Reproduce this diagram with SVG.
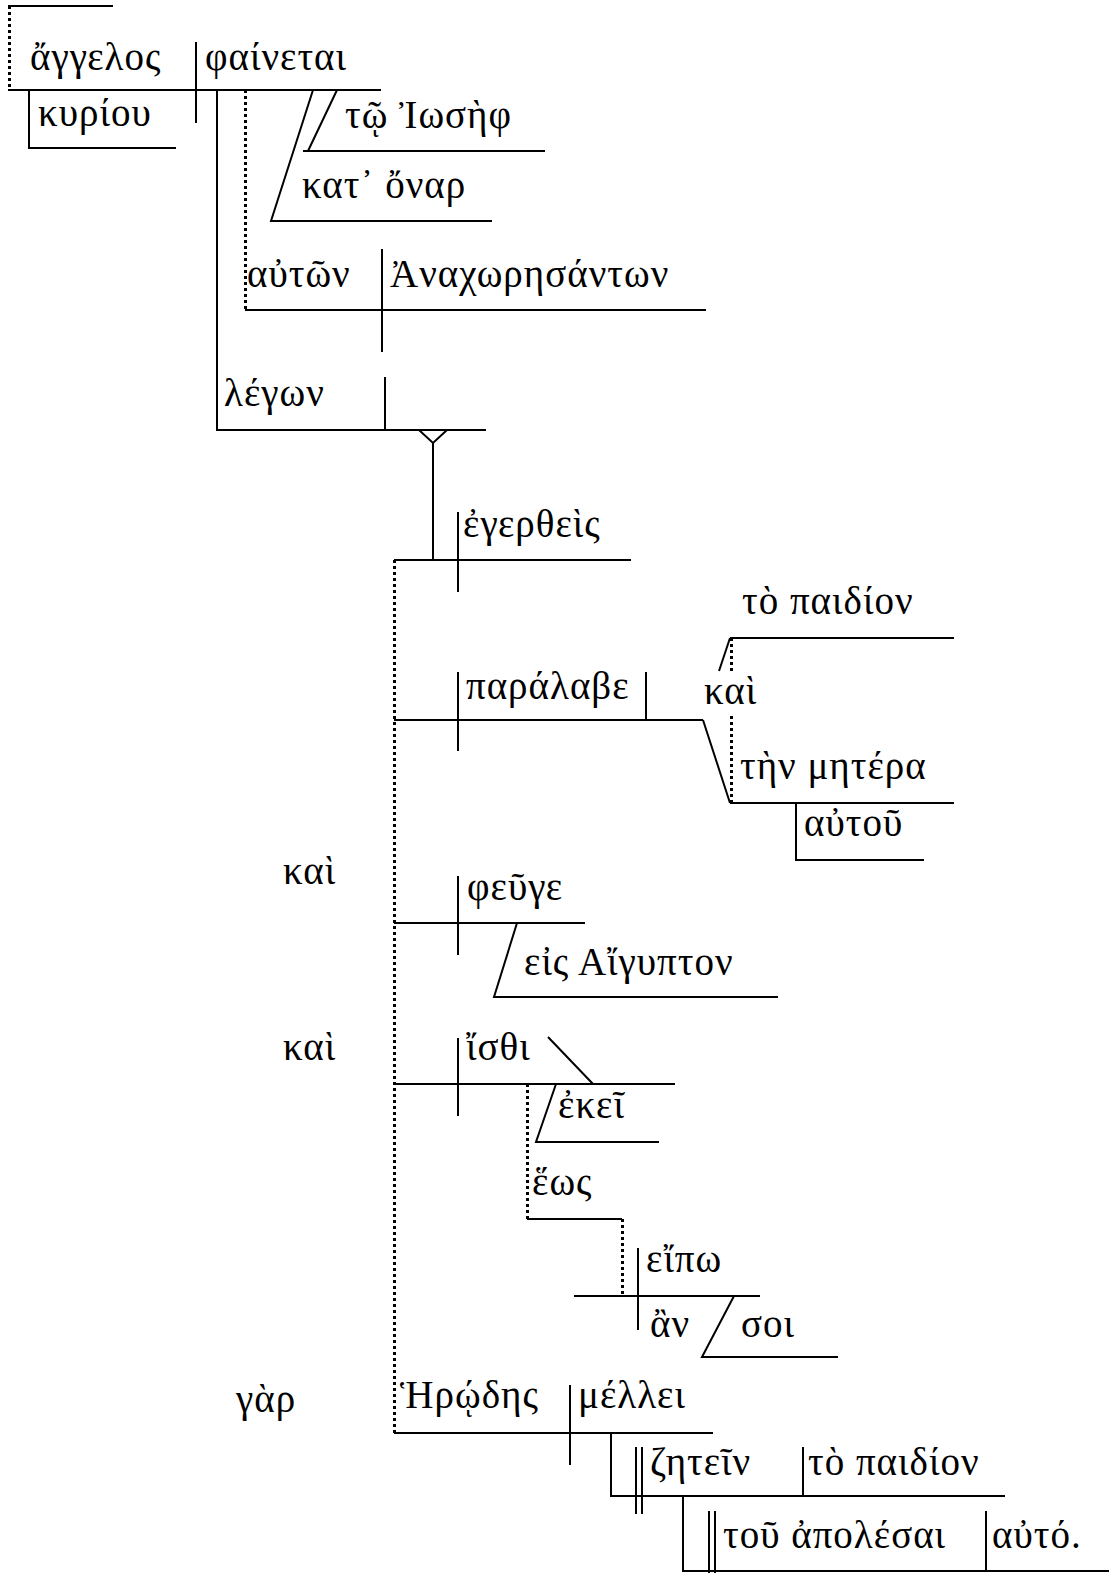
<svg xmlns="http://www.w3.org/2000/svg" width="1109" height="1573" viewBox="0 0 1109 1573">
<style>
.l{stroke:#000;stroke-width:2;fill:none}
.d{stroke:#000;stroke-width:3;fill:none;stroke-dasharray:3 3}
text{font-family:"Liberation Serif","DejaVu Serif",serif;font-size:39px;letter-spacing:1px;fill:#000}
</style>
<rect width="1109" height="1573" fill="#fff"/>
<g id="connectors">
<path class="l" d="M8,6H113"/>
<path class="d" d="M9.5,6V90"/>
<path class="l" d="M8,90H381"/>
<path class="l" d="M196,42V123"/>
<path class="l" d="M29,90V148H176"/>
<path class="l" d="M217,90V430H486"/>
<path class="d" d="M245.5,90V310"/>
<path class="l" d="M245,310H706"/>
<path class="l" d="M313,90L271,221H492"/>
<path class="l" d="M337,90L308,151M303,151H545"/>
<path class="l" d="M382,249V352"/>
<path class="l" d="M385,377V430"/>
<path class="l" d="M419,430L433,443L447,430M433,443V560"/>
<path class="l" d="M394,560H631M458,512V592"/>
<path class="d" d="M394.5,560V1433"/>
<path class="l" d="M394,720H703M458,672V751M646,672V720"/>
<path class="l" d="M703,720L730,803M719,671L730,638"/>
<path class="d" d="M731.5,638V671M731.5,716V803"/>
<path class="l" d="M730,638H954M730,803H954"/>
<path class="l" d="M796,803V860H924"/>
<path class="l" d="M394,923H585M458,876V955"/>
<path class="l" d="M517,923L494,997H778"/>
<path class="l" d="M394,1084H675M458,1038V1116M548,1037L593,1084"/>
<path class="l" d="M556,1084L536,1142H659"/>
<path class="d" d="M527.5,1084V1219"/>
<path class="l" d="M527,1219H622"/>
<path class="d" d="M622.5,1219V1296"/>
<path class="l" d="M574,1296H760M638,1248V1330"/>
<path class="l" d="M734,1296L702,1357H838"/>
<path class="l" d="M394,1433H713M570,1385V1465"/>
<path class="l" d="M611,1433V1496H1005M636,1447V1514M642,1447V1514M803,1447V1496"/>
<path class="l" d="M683,1496V1571H1109M709,1511V1573M715,1511V1573M986,1511V1571"/>
</g>
<g id="n-angelos"><text x="30" y="70">ἄγγελος</text></g>
<g id="n-phainetai"><text x="205" y="70">φαίνεται</text></g>
<g id="n-kyriou"><text x="38" y="126">κυρίου</text></g>
<g id="n-iosef"><text x="345" y="128">τῷ Ἰωσὴφ</text></g>
<g id="n-onar"><text x="302" y="198">κατ᾽ ὄναρ</text></g>
<g id="n-auton"><text x="247" y="287">αὐτῶν</text></g>
<g id="n-anachor"><text x="390" y="287">Ἀναχωρησάντων</text></g>
<g id="n-legon"><text x="224" y="406">λέγων</text></g>
<g id="n-egertheis"><text x="463" y="537">ἐγερθεὶς</text></g>
<g id="n-paralabe"><text x="466" y="699">παράλαβε</text></g>
<g id="n-paidion1"><text x="742" y="614">τὸ παιδίον</text></g>
<g id="n-kai1"><text x="704" y="704">καὶ</text></g>
<g id="n-metera"><text x="740" y="779">τὴν μητέρα</text></g>
<g id="n-autou"><text x="804" y="836">αὐτοῦ</text></g>
<g id="n-kai2"><text x="283" y="884">καὶ</text></g>
<g id="n-feuge"><text x="467" y="900">φεῦγε</text></g>
<g id="n-aigypton"><text x="524" y="975">εἰς Αἴγυπτον</text></g>
<g id="n-kai3"><text x="283" y="1060">καὶ</text></g>
<g id="n-isthi"><text x="466" y="1060">ἴσθι</text></g>
<g id="n-ekei"><text x="558" y="1118">ἐκεῖ</text></g>
<g id="n-heos"><text x="532" y="1195">ἕως</text></g>
<g id="n-eipo"><text x="646" y="1272">εἴπω</text></g>
<g id="n-an"><text x="650" y="1337">ἂν</text></g>
<g id="n-soi"><text x="741" y="1337">σοι</text></g>
<g id="n-gar"><text x="236" y="1412">γὰρ</text></g>
<g id="n-herodes"><text x="400" y="1408">Ἡρῴδης</text></g>
<g id="n-mellei"><text x="578" y="1408">μέλλει</text></g>
<g id="n-zetein"><text x="650" y="1475">ζητεῖν</text></g>
<g id="n-paidion2"><text x="808" y="1475">τὸ παιδίον</text></g>
<g id="n-apolesai"><text x="723" y="1548">τοῦ ἀπολέσαι</text></g>
<g id="n-auto"><text x="992" y="1548">αὐτό.</text></g>
</svg>
